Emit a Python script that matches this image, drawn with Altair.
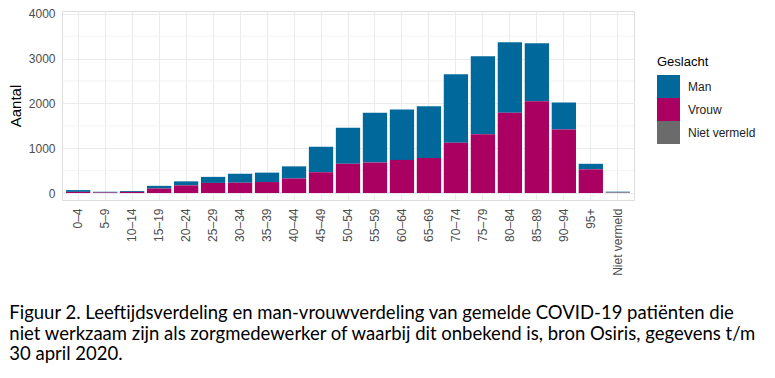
import altair as alt
import pandas as pd

# ---- data ----
ages = ["0–4", "5–9", "10–14", "15–19", "20–24", "25–29", "30–34", "35–39",
        "40–44", "45–49", "50–54", "55–59", "60–64", "65–69", "70–74", "75–79",
        "80–84", "85–89", "90–94", "95+", "Niet vermeld"]
man = [40, 18, 20, 60, 90, 135, 200, 210, 270, 570, 804, 1110, 1123, 1152,
       1529, 1739, 1573, 1291, 602, 124, 15]
vrouw = [25, 12, 25, 100, 170, 225, 230, 245, 325, 465, 652, 680, 739, 783,
         1123, 1311, 1790, 2050, 1420, 528, 5]
niet_vermeld = [0, 0, 0, 0, 0, 0, 0, 0, 0, 0, 0, 0, 0, 0,
                0, 0, 0, 0, 0, 0, 10]
genders = ["Man", "Vrouw", "Niet vermeld"]
stack_rank = [2, 1, 0]
colors = ["#01689B", "#A90061", "#6B6B6B"]
y_major = [0, 1000, 2000, 3000, 4000]
y_minor = [500, 1500, 2500, 3500]
caption = [
    "Figuur 2. Leeftijdsverdeling en man-vrouwverdeling van gemelde COVID-19 patiënten die",
    "niet werkzaam zijn als zorgmedewerker of waarbij dit onbekend is, bron Osiris, gegevens t/m",
    "30 april 2020.",
]

rows = []
for i, a in enumerate(ages):
    for g, vals, r in zip(genders, [man, vrouw, niet_vermeld], stack_rank):
        rows.append({"Leeftijd": a, "Geslacht": g, "Aantal": vals[i], "rank": r})
df = pd.DataFrame(rows)
minor_df = pd.DataFrame({"Aantal": y_minor})

FONT = "Liberation Sans"
yscale = alt.Scale(domain=[-156, 4062], nice=False, zero=False)
yaxis = alt.Axis(title="Aantal", values=y_major, format="d", labelFont=FONT,
                 labelFontSize=12, labelColor="#4d4d4d", labelPadding=7,
                 ticks=False, domain=False, grid=True, gridColor="#ebebeb",
                 gridWidth=1.1, titleFont=FONT, titleFontSize=15,
                 titleFontWeight="normal", titleColor="#000000", titlePadding=5)

minor = alt.Chart(minor_df).mark_rule(color="#f0f0f0", strokeWidth=0.8).encode(
    y=alt.Y("Aantal:Q", scale=yscale, axis=yaxis)
)

bars = alt.Chart(df).mark_bar().encode(
    x=alt.X("Leeftijd:N", sort=ages,
            scale=alt.Scale(domain=ages, paddingInner=0.1, paddingOuter=0.15),
            axis=alt.Axis(title=None, labelAngle=-90, labelFont=FONT, labelFontSize=12,
                          labelColor="#4d4d4d", labelPadding=8, ticks=False, domain=False,
                          grid=True, gridColor="#ebebeb", gridWidth=1.1, bandPosition=0.5)),
    y=alt.Y("Aantal:Q", stack="zero", scale=yscale, axis=yaxis),
    color=alt.Color("Geslacht:N", scale=alt.Scale(domain=genders, range=colors),
                    legend=alt.Legend(title="Geslacht", orient="none", legendX=595, legendY=45,
                                      symbolType="square", symbolSize=529,
                                      symbolStrokeWidth=0, symbolOpacity=1,
                                      rowPadding=0, labelOffset=8, titlePadding=6,
                                      titleFont=FONT, titleFontSize=13,
                                      titleFontWeight="normal", titleColor="#000000",
                                      labelFont=FONT, labelFontSize=12, labelColor="#222222",
                                      padding=0)),
    order=alt.Order("rank:Q", sort="ascending"),
)

chart = alt.layer(minor, bars).properties(
    width=572,
    height=189,
    autosize=alt.AutoSizeParams(type="none"),
    padding={"left": 54, "top": 3, "right": 133, "bottom": 168},
    title=alt.TitleParams(text=caption, orient="bottom", anchor="start", frame="bounds",
                          font="Lato", fontSize=18.5, fontWeight="normal", color="#000000",
                          lineHeight=20.5, offset=29, dx=1),
).configure_view(stroke=None).configure(background="white")

chart.save("out.html", embed_options={"renderer": "svg", "actions": False})
